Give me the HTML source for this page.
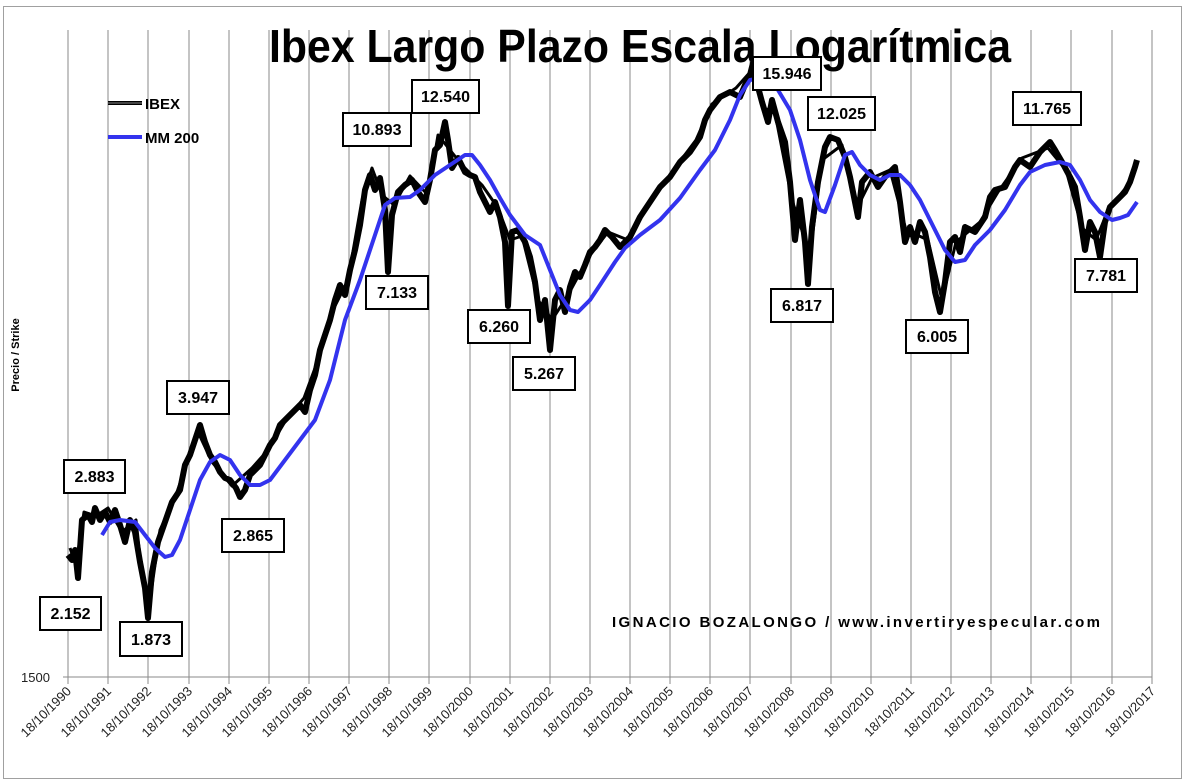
<!DOCTYPE html>
<html><head><meta charset="utf-8"><style>
html,body{margin:0;padding:0;background:#fff;}
svg{display:block;font-family:"Liberation Sans",Arial,sans-serif;}
</style></head><body>
<svg width="1186" height="781" viewBox="0 0 1186 781" xmlns="http://www.w3.org/2000/svg">
<rect x="3.5" y="6.5" width="1178" height="772" fill="#fff" stroke="#a0a0a0" stroke-width="1"/>
<g stroke="#8a8a8a" stroke-width="1">
<line x1="68" y1="30" x2="68" y2="684"/><line x1="108" y1="30" x2="108" y2="684"/><line x1="148" y1="30" x2="148" y2="684"/><line x1="189" y1="30" x2="189" y2="684"/><line x1="229" y1="30" x2="229" y2="684"/><line x1="269" y1="30" x2="269" y2="684"/><line x1="309" y1="30" x2="309" y2="684"/><line x1="349" y1="30" x2="349" y2="684"/><line x1="389" y1="30" x2="389" y2="684"/><line x1="429" y1="30" x2="429" y2="684"/><line x1="470" y1="30" x2="470" y2="684"/><line x1="510" y1="30" x2="510" y2="684"/><line x1="550" y1="30" x2="550" y2="684"/><line x1="590" y1="30" x2="590" y2="684"/><line x1="630" y1="30" x2="630" y2="684"/><line x1="670" y1="30" x2="670" y2="684"/><line x1="710" y1="30" x2="710" y2="684"/><line x1="750" y1="30" x2="750" y2="684"/><line x1="791" y1="30" x2="791" y2="684"/><line x1="831" y1="30" x2="831" y2="684"/><line x1="871" y1="30" x2="871" y2="684"/><line x1="911" y1="30" x2="911" y2="684"/><line x1="951" y1="30" x2="951" y2="684"/><line x1="991" y1="30" x2="991" y2="684"/><line x1="1031" y1="30" x2="1031" y2="684"/><line x1="1071" y1="30" x2="1071" y2="684"/><line x1="1112" y1="30" x2="1112" y2="684"/><line x1="1152" y1="30" x2="1152" y2="684"/>
<line x1="63" y1="677" x2="1152" y2="677"/>
</g>
<text x="21" y="682" font-size="13" fill="#222">1500</text>
<text transform="translate(19,355) rotate(-90)" font-size="11" font-weight="bold" text-anchor="middle">Precio / Strike</text>
<text x="640" y="62" font-size="46" font-weight="bold" text-anchor="middle" textLength="742" lengthAdjust="spacingAndGlyphs">Ibex Largo Plazo Escala Logarítmica</text>

<g fill="none" stroke="#000" stroke-linejoin="round">
<polyline stroke-width="6" points="68,555 72,560 75,550 78,578 82,520 88,515 92,522 95,508 100,520 105,512 110,522 115,510 120,525 125,542 130,520 135,532 140,562 145,588 148,618 152,572 158,542 165,522 172,502 180,490 185,465 190,455 195,440 200,425 205,442 210,455 215,462 220,472 225,478 230,480 236,488 240,497 245,490 250,475 255,470 260,465 265,455 270,445 275,438 280,425 290,415 300,405 305,412 310,390 315,375 320,350 325,335 330,320 335,300 340,285 345,295 350,270 355,250 360,225 365,190 370,175 375,190 380,178 385,210 388,272 392,215 398,192 405,185 412,180 418,192 425,202 430,180 435,150 440,145 445,122 448,140 452,168 458,158 465,172 470,175 475,177 480,192 485,202 490,212 495,202 500,217 505,242 508,306 512,232 518,230 525,242 530,257 535,282 540,320 545,300 550,350 555,300 560,290 565,312 570,287 575,272 580,277 585,265 590,252 595,247 600,240 605,230 612,237 620,247 630,237 640,217 650,202 660,187 670,177 680,162 690,152 700,137 705,120 710,110 720,97 730,92 740,97 745,85 750,75 753,63 758,87 762,102 768,122 772,100 778,122 785,142 790,182 795,240 800,200 805,242 808,284 812,227 818,182 825,147 830,137 838,140 845,157 850,177 855,202 858,217 862,182 870,172 878,187 885,177 895,167 900,202 905,242 910,227 915,242 920,222 925,232 930,257 935,292 940,312 945,282 950,242 955,237 960,252 965,227 975,232 985,217 990,197 995,190 1005,187 1015,167 1020,160 1030,167 1040,152 1050,142 1055,150 1062,162 1070,177 1075,187 1080,217 1085,250 1090,222 1095,232 1100,257 1105,222 1110,207 1115,202 1120,197 1125,192 1130,182 1135,167 1137,160"/>
<polyline stroke-width="3" points="70,548 76,565 84,512 96,516 108,508 122,532 136,520 142,575 150,600 160,530 176,495 192,448 198,432 212,462 232,486 252,468 268,450 286,420 304,398 318,360 332,312 348,280 362,200 372,168 382,195 394,205 410,176 428,195 438,135 450,150 462,165 482,185 498,208 510,240 522,236 538,300 552,320 568,295 588,258 608,232 628,240 648,206 672,172 696,140 712,104 736,88 752,70 764,110 774,108 792,200 810,255 822,160 842,145 856,210 872,178 890,170 906,230 928,240 942,300 956,242 980,222 998,192 1022,158 1048,148 1066,170 1082,228 1096,240 1108,210 1128,185"/>
</g>

<polyline fill="none" stroke="#3333ee" stroke-width="4" stroke-linejoin="round" points="102,535 110,522 120,520 135,522 145,535 155,548 165,557 172,555 180,540 190,510 200,480 210,462 220,455 230,460 240,475 250,485 260,485 270,480 285,460 300,440 315,420 330,380 345,320 360,280 375,235 385,205 395,198 410,197 420,190 435,175 450,165 465,155 472,155 480,165 490,180 500,198 510,215 525,235 540,245 550,270 560,295 570,310 578,312 590,300 600,285 615,262 625,248 640,235 660,220 680,198 700,170 715,150 730,120 740,95 750,80 762,78 775,85 790,110 800,140 810,180 820,210 825,212 835,185 845,155 852,152 860,165 870,175 880,180 890,175 900,175 910,185 920,200 935,230 945,250 955,262 965,260 975,245 990,230 1005,210 1020,185 1030,172 1045,165 1060,162 1070,165 1080,180 1090,200 1100,212 1112,220 1120,218 1128,215 1137,202"/>

<line x1="108" y1="103" x2="142" y2="103" stroke="#000" stroke-width="4"/>
<line x1="108" y1="103" x2="142" y2="103" stroke="#888" stroke-width="1"/>
<text x="145" y="109" font-size="15" font-weight="bold">IBEX</text>
<line x1="108" y1="137" x2="142" y2="137" stroke="#3333ee" stroke-width="4"/>
<text x="145" y="143" font-size="15" font-weight="bold">MM 200</text>

<g fill="#fff" stroke="#000" stroke-width="2">
<rect x="40" y="597" width="61" height="33"/><rect x="120" y="622" width="62" height="34"/><rect x="64" y="460" width="61" height="33"/><rect x="167" y="381" width="62" height="33"/><rect x="222" y="519" width="62" height="33"/><rect x="343" y="113" width="68" height="33"/><rect x="366" y="276" width="62" height="33"/><rect x="412" y="80" width="67" height="33"/><rect x="468" y="310" width="62" height="33"/><rect x="513" y="357" width="62" height="33"/><rect x="753" y="57" width="68" height="33"/><rect x="808" y="97" width="67" height="33"/><rect x="771" y="289" width="62" height="33"/><rect x="906" y="320" width="62" height="33"/><rect x="1013" y="92" width="68" height="33"/><rect x="1075" y="259" width="62" height="33"/>
</g>
<g font-size="16" font-weight="bold" text-anchor="middle">
<text x="70.5" y="619">2.152</text><text x="151" y="645">1.873</text><text x="94.5" y="482">2.883</text><text x="198" y="403">3.947</text><text x="253" y="541">2.865</text><text x="377" y="135">10.893</text><text x="397" y="298">7.133</text><text x="445.5" y="102">12.540</text><text x="499" y="332">6.260</text><text x="544" y="379">5.267</text><text x="787" y="79">15.946</text><text x="841.5" y="119">12.025</text><text x="802" y="311">6.817</text><text x="937" y="342">6.005</text><text x="1047" y="114">11.765</text><text x="1106" y="281">7.781</text>
</g>
<text x="612" y="627" font-size="15" font-weight="bold" textLength="488" lengthAdjust="spacing">IGNACIO BOZALONGO / www.invertiryespecular.com</text>

<g font-size="13" fill="#222" text-anchor="end">
<text transform="translate(72,692) rotate(-45)">18/10/1990</text><text transform="translate(112,692) rotate(-45)">18/10/1991</text><text transform="translate(152,692) rotate(-45)">18/10/1992</text><text transform="translate(193,692) rotate(-45)">18/10/1993</text><text transform="translate(233,692) rotate(-45)">18/10/1994</text><text transform="translate(273,692) rotate(-45)">18/10/1995</text><text transform="translate(313,692) rotate(-45)">18/10/1996</text><text transform="translate(353,692) rotate(-45)">18/10/1997</text><text transform="translate(393,692) rotate(-45)">18/10/1998</text><text transform="translate(433,692) rotate(-45)">18/10/1999</text><text transform="translate(474,692) rotate(-45)">18/10/2000</text><text transform="translate(514,692) rotate(-45)">18/10/2001</text><text transform="translate(554,692) rotate(-45)">18/10/2002</text><text transform="translate(594,692) rotate(-45)">18/10/2003</text><text transform="translate(634,692) rotate(-45)">18/10/2004</text><text transform="translate(674,692) rotate(-45)">18/10/2005</text><text transform="translate(714,692) rotate(-45)">18/10/2006</text><text transform="translate(754,692) rotate(-45)">18/10/2007</text><text transform="translate(795,692) rotate(-45)">18/10/2008</text><text transform="translate(835,692) rotate(-45)">18/10/2009</text><text transform="translate(875,692) rotate(-45)">18/10/2010</text><text transform="translate(915,692) rotate(-45)">18/10/2011</text><text transform="translate(955,692) rotate(-45)">18/10/2012</text><text transform="translate(995,692) rotate(-45)">18/10/2013</text><text transform="translate(1035,692) rotate(-45)">18/10/2014</text><text transform="translate(1075,692) rotate(-45)">18/10/2015</text><text transform="translate(1116,692) rotate(-45)">18/10/2016</text><text transform="translate(1156,692) rotate(-45)">18/10/2017</text>
</g>
</svg>
</body></html>
